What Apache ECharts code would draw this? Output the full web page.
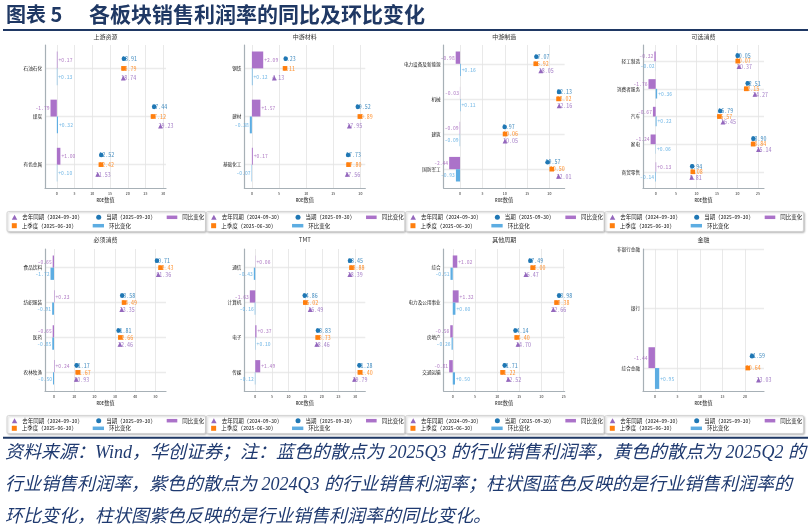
<!DOCTYPE html>
<html><head><meta charset="utf-8">
<script src="https://cdn.jsdelivr.net/npm/echarts@6/dist/echarts.min.js"></script>
<style>html,body{margin:0;padding:0;background:#fff}#c{width:811px;height:531px}</style>
</head><body><div id="c"></div>
<script>
// ---------------- data ----------------
const panelTitles = ['上游资源','中游材料','中游制造','可选消费','必须消费','TMT','其他周期','金融'];
const categories = [
  ['石油石化','煤炭','有色金属'],
  ['钢铁','建材','基础化工'],
  ['电力设备及新能源','机械','建筑','国防军工'],
  ['轻工制造','消费者服务','汽车','家电','商贸零售'],
  ['食品饮料','纺织服装','医药','农林牧渔'],
  ['通信','计算机','电子','传媒'],
  ['综合','电力及公用事业','房地产','交通运输'],
  ['非银行金融','银行','综合金融']
];
const current = [
  [18.91,27.44,12.52],
  [6.23,19.52,17.73],
  [17.07,22.13,9.97,19.57],
  [20.05,22.51,15.79,23.90,8.94],
  [50.71,33.58,31.81,11.17],
  [28.45,14.86,18.83,31.28],
  [17.49,23.98,14.14,11.71],
  [null,null,21.59]
];
const lastQuarter = [
  [18.79,27.12,12.42],
  [6.11,19.89,17.80],
  [16.92,22.02,10.06,20.50],
  [20.07,22.15,15.57,23.84,9.08],
  [52.43,34.49,32.66,11.67],
  [28.88,15.02,18.73,31.40],
  [18.00,23.38,14.40,11.22],
  [null,null,20.64]
];
const lastYear = [
  [18.74,29.23,11.53],
  [4.13,17.95,17.56],
  [18.05,22.16,10.05,22.01],
  [20.37,24.27,16.45,25.14,8.81],
  [51.36,33.35,32.46,10.93],
  [28.39,16.49,18.46,29.79],
  [16.47,22.66,14.70,12.52],
  [null,null,23.03]
];
const yoyChange = [
  [0.17,-1.79,1.00],
  [2.09,1.57,0.17],
  [-0.98,-0.03,-0.09,-2.44],
  [-0.32,-1.76,-0.67,-1.24,0.13],
  [-0.65,0.23,-0.65,0.24],
  [0.06,-1.63,0.37,1.49],
  [1.02,1.32,-0.56,-0.81],
  [null,null,-1.44]
];
const qoqChange = [
  [0.13,0.32,0.10],
  [0.12,-0.38,-0.07],
  [0.16,0.11,-0.09,-0.93],
  [-0.02,0.36,0.22,0.06,-0.14],
  [-1.72,-0.91,-0.85,-0.50],
  [-0.43,-0.16,0.10,-0.12],
  [-0.51,0.60,-0.26,0.50],
  [null,null,0.95]
];
const xTicks = [
  [0,5,10,15,20,25,30],
  [0,5,10,15,20],
  [0,5,10,15,20],
  [0,5,10,15,20,25],
  [0,10,20,30,40,50],
  [0,5,10,15,20,25,30],
  [0,5,10,15,20,25],
  [0,5,10,15,20]
];
const footLines = [
  '资料来源：Wind，华创证券；注：蓝色的散点为 2025Q3 的行业销售利润率，黄色的散点为 2025Q2 的',
  '行业销售利润率，紫色的散点为 2024Q3 的行业销售利润率；柱状图蓝色反映的是行业销售利润率的',
  '环比变化，柱状图紫色反映的是行业销售利润率的同比变化。'
];

// ---------------- layout ----------------
const xLimits = [[-3.34,30.78],[-1.39,20.90],[-3.67,23.39],[-3.10,26.49],[-4.43,55.14],[-3.28,33.05],[-2.05,25.22],[-2.66,24.25]];
const yLimits = [[-0.485,2.485],[-0.485,2.485],[-0.535,3.535],[-0.585,4.585],[-0.535,3.535],[-0.535,3.535],[-0.535,3.535],[0,2.385]];

const C_CUR='#1f77b4', C_LQ='#ff7f0e', C_LY='#9467bd', C_YOY='#ab72c9', C_QOQ='#5dade2';
const T_YOY='#a569bd', T_QOQ='#5dade2';
const N_CUR='当期 (2025-09-30)', N_LQ='上季度 (2025-06-30)', N_LY='去年同期 (2024-09-30)', N_YOY='同比变化', N_QOQ='环比变化';
const MONO="'Noto Sans Mono CJK SC','Noto Sans CJK SC',sans-serif";
const CJK="'Noto Sans CJK SC',sans-serif";
const AX='#a7b0b6';
const NAVY='#1f3864';

const grids=[], xAxes=[], yAxes=[], series=[], legends=[], graphics=[];

function barRender(o0,o1,color){
  return function(params, api){
    const v=api.value(0), k=api.value(1);
    const a=api.coord([0,k+o0]), b=api.coord([v,k+o1]);
    return {type:'rect', shape:{x:Math.min(a[0],b[0]), y:Math.min(a[1],b[1]), width:Math.abs(b[0]-a[0]), height:Math.abs(b[1]-a[1])}, style:{fill:color}};
  };
}

const legendRows = [[217.3,225.7],[420.7,428.3]];
const legendEntries = [
  {name:N_LY, icon:'triangle', left:11.8, r:0, w:5.5, h:5},
  {name:N_CUR, icon:'circle', left:96.2, r:0, w:5, h:5},
  {name:N_YOY, icon:'rect', left:166.7, r:0, w:10.6, h:3.5},
  {name:N_LQ, icon:'rect', left:11.8, r:1, w:5, h:5},
  {name:N_QOQ, icon:'rect', left:92.7, r:1, w:11.3, h:3.5}
];

for(let i=0;i<8;i++){
  const col=i%4, row=Math.floor(i/4);
  const c=199.33*col;
  const L=45+c, W=121, T=row?249:45, H=row?142:143;
  const lo=yLimits[i][0], hi=yLimits[i][1];
  const n=categories[i].length;
  const ppu=H/(hi-lo);
  const gf=2*i, go=2*i+1;
  grids.push({left:L, top:T, width:W, height:H, outerBoundsMode:'none'});
  grids.push({left:L, top:T+(0-lo)*ppu, width:W, height:(n-1)*ppu, outerBoundsMode:'none'});
  xAxes.push({gridIndex:gf, type:'value', min:xLimits[i][0], max:xLimits[i][1],
    axisLine:{show:true, onZero:false, lineStyle:{color:AX, width:1.2}},
    axisTick:{show:false, customValues:xTicks[i]},
    axisLabel:{customValues:xTicks[i], fontSize:4, margin:3, color:'#333', fontFamily:MONO},
    splitLine:{show:true, lineStyle:{color:'#e3e3e3', width:0.8}},
    name:'ROE数值', nameLocation:'middle', nameGap:9,
    nameTextStyle:{fontSize:5.2, color:'#333', fontFamily:MONO}
  });
  xAxes.push({gridIndex:go, type:'value', min:xLimits[i][0], max:xLimits[i][1], show:false});
  yAxes.push({gridIndex:gf, type:'value', min:lo, max:hi, inverse:true,
    axisLine:{show:true, onZero:false, lineStyle:{color:AX, width:1.2}},
    axisTick:{show:false}, axisLabel:{show:false}, splitLine:{show:false}});
  yAxes.push({gridIndex:go, type:'category', data:categories[i], inverse:true, boundaryGap:false,
    axisLine:{show:false}, axisTick:{show:false},
    axisLabel:{interval:0, fontSize:4.6, margin:3, color:'#222', fontFamily:CJK},
    splitLine:{show:true, interval:0, lineStyle:{color:'#ebebeb', width:1.3}}});

  const pts=(arr,off)=>arr.map((v,k)=>v==null?null:[v,k+off]).filter(Boolean);
  const base={xAxisIndex:gf, yAxisIndex:gf, animation:false};

  // bars
  series.push(Object.assign({}, base, {type:'custom', name:N_YOY, z:1, silent:true, itemStyle:{color:C_YOY},
    encode:{x:0,y:1}, data:pts(yoyChange[i],0), renderItem:barRender(-0.35,0,C_YOY)}));
  series.push(Object.assign({}, base, {type:'custom', name:N_QOQ, z:1, silent:true, itemStyle:{color:C_QOQ},
    encode:{x:0,y:1}, data:pts(qoqChange[i],0), renderItem:barRender(0,0.35,C_QOQ)}));

  // bar labels
  const barLab=(arr,off,color)=>Object.assign({}, base, {type:'scatter', name:'lab', z:2, silent:true, symbolSize:0,
    itemStyle:{color:'transparent'},
    data:arr.map((v,k)=>v==null?null:{value:[v,k+off], label:{position:v>=0?'right':'left'}}).filter(Boolean),
    label:{show:true, distance:1, fontSize:5.6, fontFamily:MONO, color:color,
      formatter:p=>(p.value[0]>=0?'+':'-')+Math.abs(p.value[0]).toFixed(2)}});
  series.push(barLab(yoyChange[i],-0.175,T_YOY));
  series.push(barLab(qoqChange[i],0.175,T_QOQ));

  // point labels (under markers)
  const ptLab=(arr,off,color)=>Object.assign({}, base, {type:'scatter', name:'lab', z:2, silent:true, symbolSize:0,
    itemStyle:{color:'transparent'}, data:pts(arr,off),
    label:{show:true, position:'right', distance:0, offset:[-2,0], fontSize:6, fontFamily:MONO, color:color,
      formatter:p=>p.value[0].toFixed(2)}});
  series.push(ptLab(current[i],-0.2,C_CUR));
  series.push(ptLab(lastQuarter[i],0,C_LQ));
  series.push(ptLab(lastYear[i],0.2,C_LY));

  // markers
  const mk=(arr,off,name,symbol,size,color)=>Object.assign({}, base, {type:'scatter', name:name, z:3, silent:true,
    symbol:symbol, symbolSize:size, itemStyle:{color:color, opacity:1}, data:pts(arr,off)});
  series.push(mk(current[i],-0.2,N_CUR,'circle',4.6,C_CUR));
  series.push(mk(lastQuarter[i],0,N_LQ,'rect',4.6,C_LQ));
  series.push(mk(lastYear[i],0.2,N_LY,'triangle',4.8,C_LY));

  // panel title
  graphics.push({type:'text', z:5, style:{text:panelTitles[i], x:L+W/2, y:row?239.7:36.7, fill:'#333',
    fontSize:6, fontFamily:CJK, align:'center', verticalAlign:'middle'}});

  // legend box
  graphics.push({type:'rect', z:0, shape:{x:7+c, y:row?415.5:211.5, width:198.5, height:row?18:20, r:1.5},
    style:{fill:'#fff', stroke:'#cfcfcf', lineWidth:0.8, shadowBlur:2, shadowColor:'rgba(0,0,0,0.25)', shadowOffsetX:1, shadowOffsetY:1}});

  legendEntries.forEach(e=>{
    legends.push({left:c+e.left, top:legendRows[row][e.r]-3, orient:'horizontal', padding:0, itemGap:0,
      itemWidth:e.w, itemHeight:e.h, selectedMode:false, data:[{name:e.name, icon:e.icon}],
      textStyle:{fontSize:5.5, fontFamily:MONO, color:'#222', lineHeight:6}});
  });
}

// title & lines & footnote
graphics.push({type:'text', style:{text:'图表 5', x:6, y:14.5, fill:NAVY, fontSize:20, fontWeight:'bold', fontFamily:"'Noto Sans CJK SC',sans-serif", verticalAlign:'middle'}});
graphics.push({type:'text', style:{text:'各板块销售利润率的同比及环比变化', x:89, y:14.5, fill:NAVY, fontSize:21, fontWeight:'bold', fontFamily:"'Noto Sans CJK SC',sans-serif", verticalAlign:'middle'}});
graphics.push({type:'line', shape:{x1:3, y1:30, x2:808, y2:30}, style:{stroke:NAVY, lineWidth:2}});
graphics.push({type:'line', shape:{x1:3, y1:437.7, x2:808, y2:437.7}, style:{stroke:NAVY, lineWidth:2}});
const footY=[453,485.5,517.5];
footLines.forEach((t,k)=>{
  graphics.push({type:'text', style:{text:t, x:5, y:footY[k], fill:'#1f3a70', fontSize:18, fontStyle:'italic',
    fontFamily:"'Liberation Serif','Noto Sans CJK SC',serif", verticalAlign:'middle'}});
});

const chart=echarts.init(document.getElementById('c'), null, {renderer:'canvas', width:811, height:531});
chart.setOption({
  animation:false,
  backgroundColor:'#fff',
  grid:grids, xAxis:xAxes, yAxis:yAxes, series:series, legend:legends, graphic:graphics
});
</script>
</body></html>
